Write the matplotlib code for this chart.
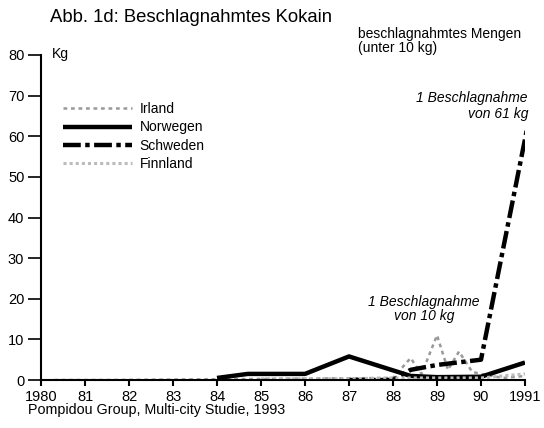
import matplotlib
matplotlib.use("Agg")
import matplotlib.pyplot as plt

plt.rcParams['font.family'] = ['Liberation Sans', 'DejaVu Sans']

# data (kg)
years_tick = list(range(1980, 1992))
tick_labels = ['1980', '81', '82', '83', '84', '85', '86', '87', '88', '89', '90', '1991']

irl_x = [1980.3, 1981.6, 1988.0, 1988.4, 1988.65, 1989.0, 1989.25, 1989.5, 1989.8, 1990.0, 1990.5, 1991]
irl_y = [0, 0, 0.5, 5.4, 1.5, 11, 2.5, 7, 2, 1.5, 0.5, 1]

nor_x = [1984, 1984.7, 1986, 1987, 1988.4, 1989, 1990, 1991]
nor_y = [0.5, 1.5, 1.5, 5.8, 1.0, 0.7, 0.8, 4.3]

swe_x = [1987, 1988, 1988.4, 1989, 1990, 1991.05]
swe_y = [0, 0, 2.5, 3.7, 5, 62]

fin_x = [1985, 1986, 1987, 1988, 1989, 1990, 1991]
fin_y = [0.3, 0.3, 0.3, 0.5, 0.5, 0.5, 1.5]

fig = plt.figure(figsize=(5.44, 4.28), dpi=100)
ax = fig.add_axes([41/544, 1-380/428, 484/544, 325/428])

ax.plot(irl_x, irl_y, color='#999999', lw=1.8, ls=(0, (1.5, 1.5)), label='Irland')
ax.plot(nor_x, nor_y, color='black', lw=3.2, solid_capstyle='butt', label='Norwegen')
ax.plot(swe_x, swe_y, color='black', lw=3.2, ls=(0, (4, 1, 1, 1)), label='Schweden')
ax.plot(fin_x, fin_y, color='#bbbbbb', lw=2.2, ls=(0, (1, 1)), label='Finnland')

ax.set_xlim(1980, 1991)
ax.set_ylim(0, 80)
ax.set_xticks(years_tick)
ax.set_xticklabels(tick_labels, family=['Liberation Sans Narrow', 'Liberation Sans'])
ax.set_yticks(range(0, 81, 10))
ax.set_yticklabels([str(v) for v in range(0, 81, 10)],
                   family=['Liberation Sans Narrow', 'Liberation Sans'])
for s in ['top', 'right']:
    ax.spines[s].set_visible(False)
ax.spines['left'].set_linewidth(1.5)
ax.spines['bottom'].set_linewidth(1.5)
ax.tick_params(axis='x', direction='out', length=4, width=1.5, labelsize=10.5, pad=3)
ax.tick_params(axis='y', direction='out', length=9.5, width=1.2, labelsize=10.5, pad=2.5)

ax.legend(loc='upper left', bbox_to_anchor=(63/544, 1-102/428), bbox_transform=fig.transFigure,
          frameon=False, fontsize=10, borderpad=0, borderaxespad=0,
          handlelength=5.0, labelspacing=0.32, handletextpad=0.5)

fig.text(50/544, 1-18/428, 'Abb. 1d: Beschlagnahmtes Kokain', fontsize=13.3, va='center')
fig.text(52/544, 1-54/428, 'Kg', fontsize=10, va='center')
fig.text(358/544, 1-41/428, 'beschlagnahmtes Mengen\n(unter 10 kg)', fontsize=10,
         va='center', linespacing=0.95)
fig.text(528/544, 1-106/428, '1 Beschlagnahme\nvon 61 kg', fontsize=10, style='italic',
         ha='right', va='center', linespacing=1.1)
fig.text(424/544, 1-309/428, '1 Beschlagnahme\nvon 10 kg', fontsize=10, style='italic',
         ha='center', va='center', linespacing=1.0)
fig.text(28/544, 1-410/428, 'Pompidou Group, Multi-city Studie, 1993', fontsize=10.3, va='center')

fig.savefig('out.png', dpi=100)
